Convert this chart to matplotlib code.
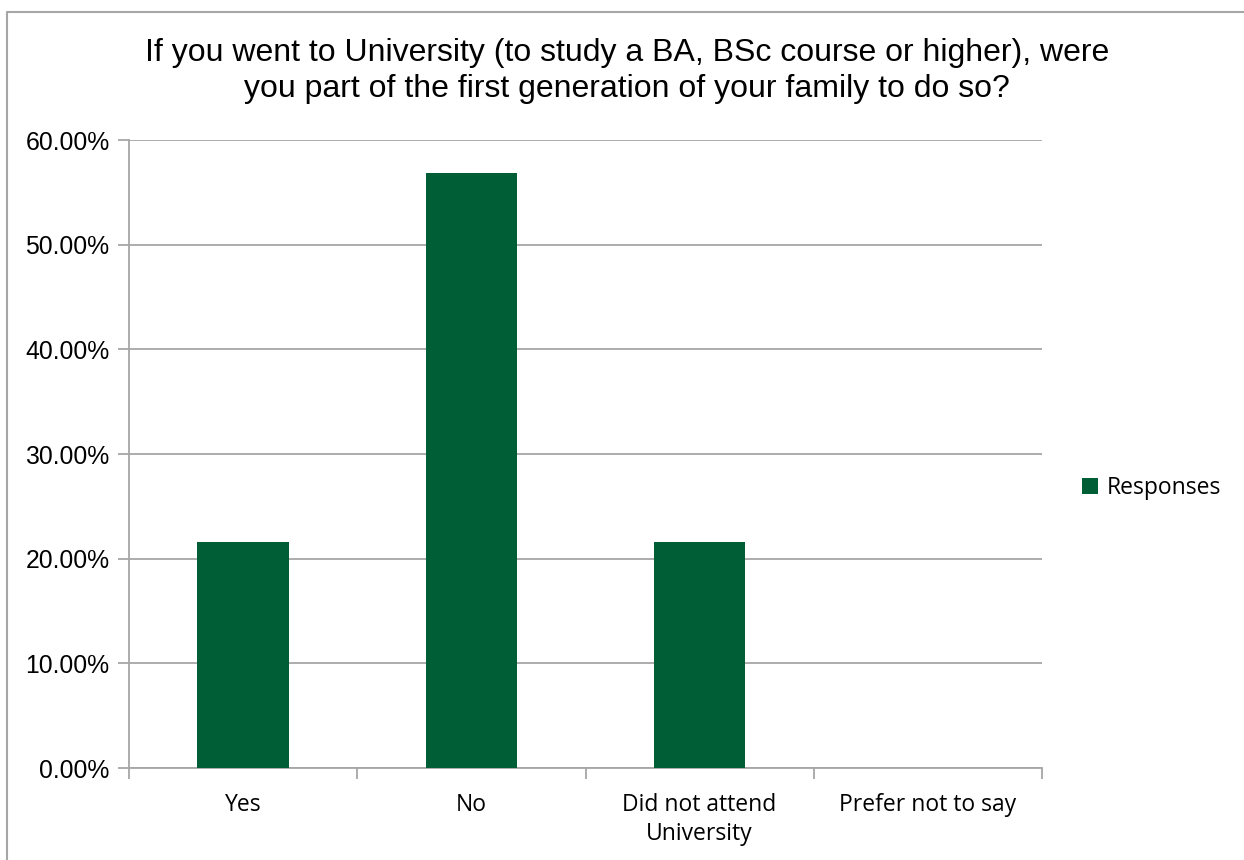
import numpy as np
import matplotlib.pyplot as plt
from matplotlib.lines import Line2D
from matplotlib.patches import Patch

categories = ["Yes", "No", "Did not attend\nUniversity", "Prefer not to say"]
responses = [21.57, 56.86, 21.57, 0.0]
yticks = [0, 10, 20, 30, 40, 50, 60]
title = ("If you went to University (to study a BA, BSc course or higher), were\n"
         "you part of the first generation of your family to do so?")

bar_color = "#005e37"
grid_color = "#a6a6a6"

fig = plt.figure(figsize=(12.44, 8.6), dpi=100)
ax = fig.add_axes([129 / 1244, 1 - 768 / 860, 913 / 1244, 628 / 860])

x = np.arange(len(categories))
ax.bar(x, responses, width=0.4, color=bar_color, zorder=3, label="Responses")

ax.set_xlim(-0.5, len(categories) - 0.5)
ax.set_ylim(0, 60)
ax.set_yticks(yticks)
ax.set_yticklabels([f"{v:.2f}%" for v in yticks], fontfamily="Liberation Sans", fontsize=17.8)
ax.yaxis.grid(True, color=grid_color, linewidth=1.3, zorder=0)

ax.set_xticks(x)
ax.set_xticklabels(categories, fontfamily="Open Sans", fontsize=16.5, linespacing=1.25)
ax.set_xticks(np.arange(len(categories) + 1) - 0.5, minor=True)
ax.tick_params(axis="x", which="major", length=0, pad=18)
ax.tick_params(axis="x", which="minor", length=8, color=grid_color, width=1.3)
ax.tick_params(axis="y", length=8, color=grid_color, width=1.3, pad=6)

for s in ["top", "right"]:
    ax.spines[s].set_visible(False)
for s in ["left", "bottom"]:
    ax.spines[s].set_color(grid_color)
    ax.spines[s].set_linewidth(1.3)

fig.text(627 / 1244, 1 - 71 / 860, title, ha="center", va="center",
         fontfamily="Liberation Sans", fontsize=23, linespacing=1.25)

handles = [Patch(facecolor=bar_color, edgecolor="none")]
leg = fig.legend(handles, ["Responses"], loc="center left",
                 bbox_to_anchor=(1061 / 1244, 1 - 488 / 860), frameon=False,
                 prop={"family": "Open Sans", "size": 16.5},
                 handlelength=0.7, handleheight=0.7, handletextpad=0.4)

# outer chart frame (clipped at right and bottom)
fig.add_artist(Line2D([6.5 / 1244, 6.5 / 1244, 1.0], [0.0, 1 - 11.5 / 860, 1 - 11.5 / 860],
                      transform=fig.transFigure, color=grid_color, linewidth=1.5))

fig.savefig("out.png", dpi=100, facecolor="white")
